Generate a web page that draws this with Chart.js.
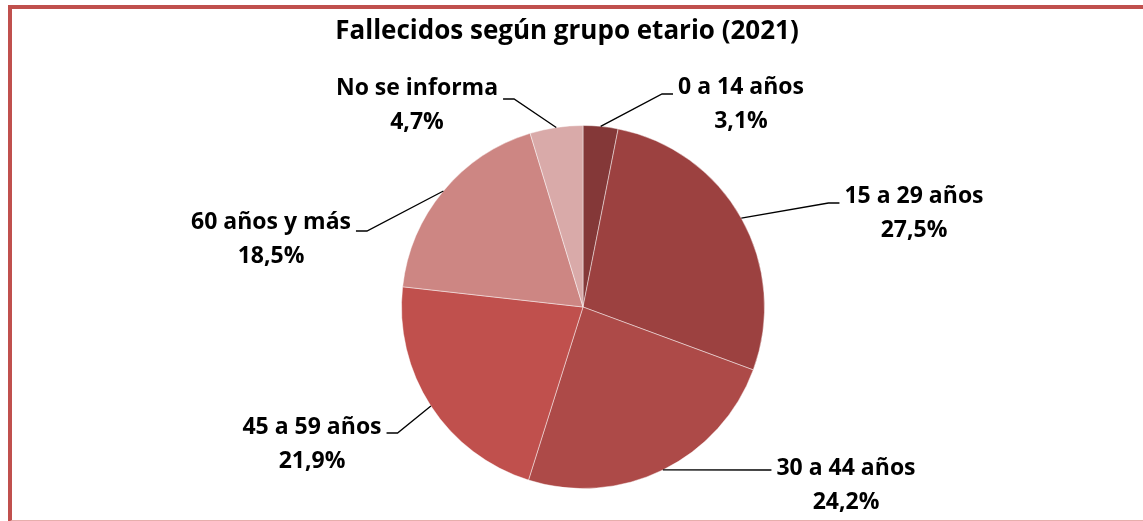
<!DOCTYPE html>
<html>
<head>
<meta charset="utf-8">
<script src="https://cdn.jsdelivr.net/npm/chart.js@4.4.1/dist/chart.umd.min.js"></script>
<style>
  body { margin: 0; background: #ffffff; overflow: hidden; }
  #marco {
    position: absolute; left: 8px; top: 5px; width: 1200px; height: 511px;
    border-top: 4px solid #c0504d; border-left: 4px solid #c0504d;
    border-bottom: 2px solid #e6aeac;
  }
  #myChart { position: absolute; left: 0; top: 0; }
</style>
</head>
<body>
<div id="marco"></div>
<canvas id="myChart" width="1143" height="521"></canvas>
<script>
// datos del grafico
const titulo = 'Fallecidos según grupo etario (2021)';
const grupos = ['0 a 14 años', '15 a 29 años', '30 a 44 años', '45 a 59 años', '60 años y más', 'No se informa'];
const porcentajes = [3.1, 27.5, 24.2, 21.9, 18.5, 4.7];
const colores = ['#843838', '#9c4140', '#ad4a48', '#c0504d', '#cd8683', '#d9aaa9'];

// ubicacion de cada etiqueta respecto al centro del pie (tx, ty = centro texto, ly = altura de la linea guia)
const ubicaciones = [
  { tx: 158, ty: -220, ly: -213 },
  { tx: 331, ty: -111, ly: -104 },
  { tx: 263, ty: 161, ly: 163 },
  { tx: -271, ty: 120, ly: 126 },
  { tx: -312, ty: -85, ly: -76 },
  { tx: -166, ty: -219, ly: -208 }
];

const fuente = 'bold 23px "Open Sans"';

const etiquetas = {
  id: 'etiquetas',
  afterDraw(chart) {
    const ctx = chart.ctx;
    const arcos = chart.getDatasetMeta(0).data;
    ctx.save();

    // titulo
    ctx.fillStyle = '#000';
    ctx.font = 'bold 26px "Open Sans"';
    ctx.textAlign = 'center';
    ctx.textBaseline = 'middle';
    ctx.fillText(titulo, 567, 32);

    ctx.font = fuente;
    arcos.forEach((arco, i) => {
      const u = ubicaciones[i];
      const cx = arco.x, cy = arco.y;
      const medio = (arco.startAngle + arco.endAngle) / 2;
      const ex = cx + Math.cos(medio) * arco.outerRadius;
      const ey = cy + Math.sin(medio) * arco.outerRadius;

      const texto1 = grupos[i];
      const texto2 = porcentajes[i].toFixed(1).replace('.', ',') + '%';
      const tx = cx + u.tx, ty = cy + u.ty;
      const ancho = ctx.measureText(texto1).width;
      const derecha = u.tx > 0;
      const fin = derecha ? tx - ancho / 2 - 5 : tx + ancho / 2 + 5;
      const codo = derecha ? fin - 11 : fin + 11;
      const ly = cy + u.ly;

      // linea guia
      ctx.strokeStyle = '#000';
      ctx.lineWidth = 1.3;
      ctx.beginPath();
      ctx.moveTo(ex, ey);
      if (Math.abs(ey - ly) > 2) ctx.lineTo(codo, ly);
      ctx.lineTo(fin, ly);
      ctx.stroke();

      ctx.fillStyle = '#000';
      ctx.fillText(texto1, tx, ty);
      ctx.fillText(texto2, tx, ty + 34);
    });
    ctx.restore();
  }
};

const ctx = document.getElementById('myChart');
new Chart(ctx, {
  type: 'pie',
  data: {
    labels: grupos,
    datasets: [{
      data: porcentajes,
      backgroundColor: colores,
      borderColor: 'rgba(255,255,255,0.45)',
      borderWidth: 1
    }]
  },
  options: {
    responsive: false,
    animation: false,
    devicePixelRatio: 1,
    layout: { padding: { top: 125, bottom: 32, left: 401, right: 378 } },
    plugins: {
      legend: { display: false },
      title: { display: false },
      tooltip: { enabled: false }
    }
  },
  plugins: [etiquetas]
});
</script>
</body>
</html>
